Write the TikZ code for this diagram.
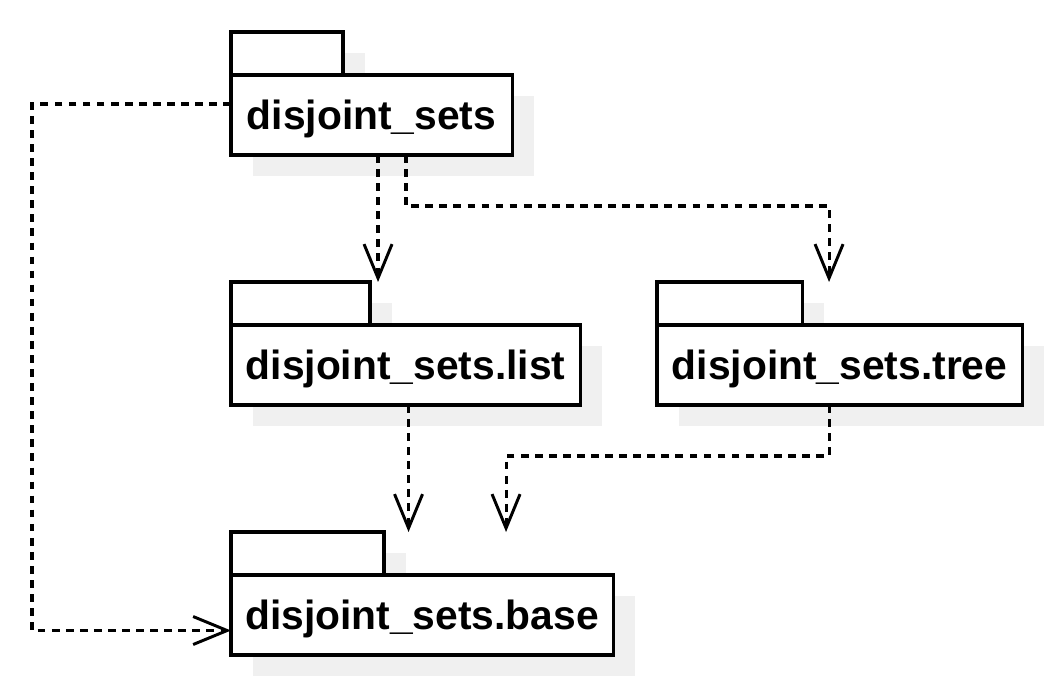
\documentclass[tikz,border=0pt]{standalone}
\usepackage{fontspec}
\setmainfont{Liberation Sans}
\usepackage{tikz}
\usetikzlibrary{positioning,calc,shadows,arrows.meta}

\tikzset{
	pkgshadow/.style={drop shadow={fill=black!6, opacity=1, shadow xshift=0.55cm, shadow yshift=-0.53cm}},
	pkgbox/.style={draw, line width=2.2pt, fill=white, pkgshadow, minimum height=2cm, inner sep=0pt, outer sep=0pt,
		text height=26pt, text depth=6pt, font=\bfseries\fontsize{29}{34}\selectfont},
	pkgtab/.style={draw, line width=2.2pt, fill=white, pkgshadow, minimum height=1.075cm, inner sep=0pt, outer sep=0pt},
	dep/.style={line width=2.2pt, dash pattern=on 5.5pt off 4.5pt,
		-{Straight Barb[length=0.85cm, width=0.7cm, line width=2.1pt]}}
}

\begin{document}
\begin{tikzpicture}[x=0.025cm, y=-0.025cm]
			\useasboundingbox (0,0) rectangle (1056,688);
			% packages
			\node[pkgtab, minimum width=2.8cm, anchor=north west] (dstab) at (231,32) {};
			\node[pkgbox, minimum width=7.025cm, below right=0cm and 0cm of dstab.south west] (ds) {disjoint\_sets};
			\node[pkgtab, minimum width=3.475cm, anchor=north west] (dltab) at (231,282) {};
			\node[pkgbox, minimum width=8.725cm, below right=0cm and 0cm of dltab.south west] (dl) {disjoint\_sets.list};
			\node[pkgtab, minimum width=3.625cm, anchor=north west] (dttab) at (657,282) {};
			\node[pkgbox, minimum width=9.125cm, below right=0cm and 0cm of dttab.south west] (dt) {disjoint\_sets.tree};
			\node[pkgtab, minimum width=3.825cm, anchor=north west] (dbtab) at (231,532) {};
			\node[pkgbox, minimum width=9.55cm, below right=0cm and 0cm of dbtab.south west] (db) {disjoint\_sets.base};
			% dependencies
			\coordinate (ds1) at ($(ds.south)+(6.5,0)$);
			\coordinate (ds2) at ($(ds.south)+(34.5,0)$);
			\coordinate (dt1) at ($(dt.north)+(-10.5,0)$);
			\coordinate (dl1) at ($(dl.south)+(3,0)$);
			\coordinate (db1) at ($(db.north)+(84,0)$);
			\coordinate (db2) at ($(db.west)+(0,15.5)$);
			\draw[dep] (ds1) -- (ds1 |- dltab.north);
			\draw[dep] (ds2) -- ++(0,51) -| (dt1 |- dttab.north);
			\draw[dep] (dl1) -- (dl1 |- dbtab.north);
			\draw[dep] (dt.south -| dt1) -- ++(0,51) -| (db1 |- dbtab.north);
			\draw[dep] ($(ds.west)+(0,-11)$) -- ++(-199,0) |- (db2);
		\end{tikzpicture}
\end{document}
